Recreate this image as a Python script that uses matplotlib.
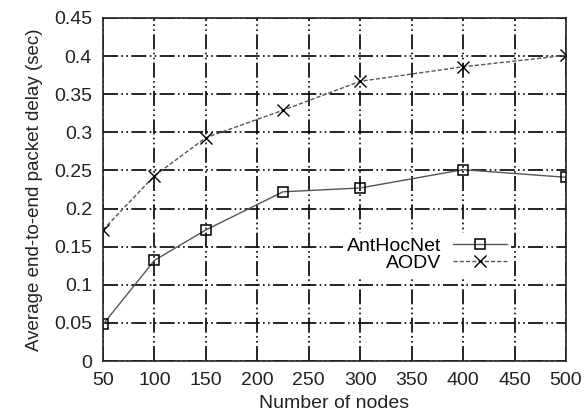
import numpy as np
import matplotlib.pyplot as plt

plt.rcParams['font.family'] = ['Liberation Sans', 'DejaVu Sans']

# datos
nodos = [50, 100, 150, 225, 300, 400, 500]
anthocnet = [0.048, 0.132, 0.172, 0.222, 0.227, 0.251, 0.241]
aodv = [0.172, 0.243, 0.293, 0.329, 0.367, 0.386, 0.401]
xticks = [50, 100, 150, 200, 250, 300, 350, 400, 450, 500]
yticks = [0, 0.05, 0.1, 0.15, 0.2, 0.25, 0.3, 0.35, 0.4, 0.45]

fig = plt.figure(figsize=(5.86, 4.16), dpi=100)
ax = fig.add_axes([103/586, 1 - 361/416, 463/586, 343/416])

ax.plot(nodos, anthocnet, color='#555555', lw=1.0, marker='s', ms=7.5,
        mfc='none', mec='black', mew=1.1, label='AntHocNet')
ax.plot(nodos, aodv, color='#555555', lw=1.0, ls=(0, (3, 1.5)), marker='x', ms=9,
        mec='black', mew=1.0, label='AODV')

ax.set_xlim(50, 500)
ax.set_ylim(0, 0.45)
ax.set_xticks(xticks)
ax.set_xticklabels([str(t) for t in xticks])
ax.set_yticks(yticks)
ax.set_yticklabels(['0', '0.05', '0.1', '0.15', '0.2', '0.25', '0.3', '0.35', '0.4', '0.45'])
ax.grid(True, color='black', lw=1.2, ls=(0, (9, 2, 1, 2, 1, 2)))
ax.tick_params(labelsize=14, length=0, pad=8, colors='#222222')
for s in ax.spines.values():
    s.set_color('#222222')
    s.set_linewidth(1.2)

ax.set_xlabel('Number of nodes', fontsize=14, color='#222222', labelpad=4)
ax.set_ylabel('Average end-to-end packet delay (sec)', fontsize=13.5, color='#222222', labelpad=8)

leg = ax.legend(loc='center', bbox_to_anchor=(0.70, 0.31), frameon=True, fontsize=14,
                markerfirst=False, handlelength=2.8, handletextpad=0.6,
                labelspacing=0.0, borderpad=0.2, fancybox=False,
                facecolor='white', edgecolor='none', framealpha=1)
for t in leg.get_texts():
    t.set_ha('right')
leg._legend_box.align = 'right'

fig.savefig('out.png', dpi=100, facecolor='white')
